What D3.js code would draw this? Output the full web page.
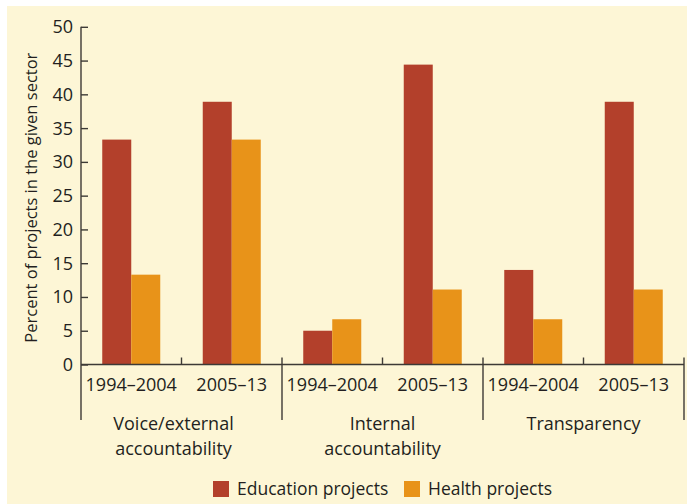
<!DOCTYPE html>
<html>
<head>
<meta charset="utf-8">
<script src="https://cdn.jsdelivr.net/npm/d3@7"></script>
<style>
  html, body { margin: 0; padding: 0; background: #ffffff; }
  svg { display: block; }
  text { font-family: "Open Sans", "Noto Sans", sans-serif; fill: #231f20; }
</style>
</head>
<body>
<svg id="chart" width="687" height="504"></svg>
<script>
// ---- data ----
const groups = ["Voice/external accountability", "Internal accountability", "Transparency"];
const groupLines = [["Voice/external", "accountability"], ["Internal", "accountability"], ["Transparency"]];
const periods = ["1994–2004", "2005–13"];
const series = ["Education projects", "Health projects"];
const education = [33.3, 38.9, 5.0, 44.4, 14.0, 38.9];
const health = [13.3, 33.3, 6.7, 11.1, 6.7, 11.1];
const yTicks = [0, 5, 10, 15, 20, 25, 30, 35, 40, 45, 50];
const yTitle = "Percent of projects in the given sector";

(function () {
const colors = { "Education projects": "#b3402b", "Health projects": "#e89319" };
const axisColor = "#3d3a36";

const svg = d3.select("#chart");
svg.append("rect").attr("x", 7).attr("y", 6).attr("width", 680).attr("height", 498).attr("fill", "#fdf6d6");

const pLeft = 81, pRight = 684, pTop = 26.8, pBottom = 364.5, sepBottom = 420;

// flat categories
const cats = [];
groups.forEach((g, gi) => periods.forEach((p, pi) => cats.push({ key: gi + "|" + p, group: gi, period: p, i: gi * periods.length + pi })));

const x0 = d3.scaleBand().domain(cats.map(c => c.key)).range([pLeft, pRight]).paddingInner(0).paddingOuter(0);
const xg = d3.scaleBand().domain(groups).range([pLeft, pRight]);
const y = d3.scaleLinear().domain([0, 50]).range([pBottom, pTop]);
const barW = 29;
const x1 = d3.scaleBand().domain(series).range([0, barW * 2]);

// bars
const g = svg.append("g");
cats.forEach(c => {
  const cx = x0(c.key) + x0.bandwidth() / 2 - barW;
  const vals = [education[c.i], health[c.i]];
  series.forEach((s, si) => {
    g.append("rect")
      .attr("x", cx + x1(s))
      .attr("y", y(vals[si]))
      .attr("width", x1.bandwidth())
      .attr("height", y(0) - y(vals[si]))
      .attr("fill", colors[s]);
  });
});

// y axis
const yAxis = d3.axisRight(y).tickValues(yTicks).tickSize(7).tickFormat("");
const ya = svg.append("g").attr("transform", `translate(${pLeft},0)`).call(yAxis);
ya.select(".domain").remove();
ya.selectAll("line").attr("stroke", axisColor).attr("stroke-width", 1.4);
svg.append("line").attr("x1", pLeft).attr("x2", pLeft).attr("y1", pTop).attr("y2", sepBottom)
  .attr("stroke", axisColor).attr("stroke-width", 1.4);
svg.append("g").selectAll("text").data(yTicks).join("text")
  .attr("x", pLeft - 8).attr("y", d => y(d)).attr("dy", "0.36em")
  .attr("text-anchor", "end").attr("font-size", 18).text(d => d);

// y title
svg.append("text")
  .attr("transform", `translate(37,${(pTop + pBottom) / 2 + 2}) rotate(-90)`)
  .attr("text-anchor", "middle").attr("font-size", 16.5).text(yTitle);

// x axis baseline
svg.append("line").attr("x1", pLeft).attr("x2", pRight).attr("y1", pBottom).attr("y2", pBottom)
  .attr("stroke", axisColor).attr("stroke-width", 1.4);

// minor ticks between periods & group separators
cats.forEach((c, i) => {
  if (i === 0) return;
  const xx = x0(c.key);
  const isSep = c.period === periods[0];
  svg.append("line").attr("x1", xx).attr("x2", xx).attr("y1", pBottom - 7).attr("y2", isSep ? sepBottom : pBottom)
    .attr("stroke", axisColor).attr("stroke-width", 1.4);
});
svg.append("line").attr("x1", pRight).attr("x2", pRight).attr("y1", pBottom - 7).attr("y2", sepBottom)
  .attr("stroke", axisColor).attr("stroke-width", 1.4);

// period labels
svg.append("g").selectAll("text").data(cats).join("text")
  .attr("x", d => x0(d.key) + x0.bandwidth() / 2).attr("y", 391)
  .attr("text-anchor", "middle").attr("font-size", 18).text(d => d.period);

// group labels
groups.forEach((gname, gi) => {
  const cx = xg(gname) + xg.bandwidth() / 2 + (gi === 0 ? -8 : 0);
  groupLines[gi].forEach((ln, li) => {
    svg.append("text").attr("x", cx).attr("y", 430 + li * 25)
      .attr("text-anchor", "middle").attr("font-size", 18).text(ln);
  });
});

// legend
const legend = svg.append("g");
const legendPos = [213, 404];
series.forEach((s, si) => {
  legend.append("rect").attr("x", legendPos[si]).attr("y", 481).attr("width", 16).attr("height", 16).attr("fill", colors[s]);
  legend.append("text").attr("x", legendPos[si] + 24).attr("y", 495).attr("font-size", 17.5).text(s);
});
})();
</script>
</body>
</html>
